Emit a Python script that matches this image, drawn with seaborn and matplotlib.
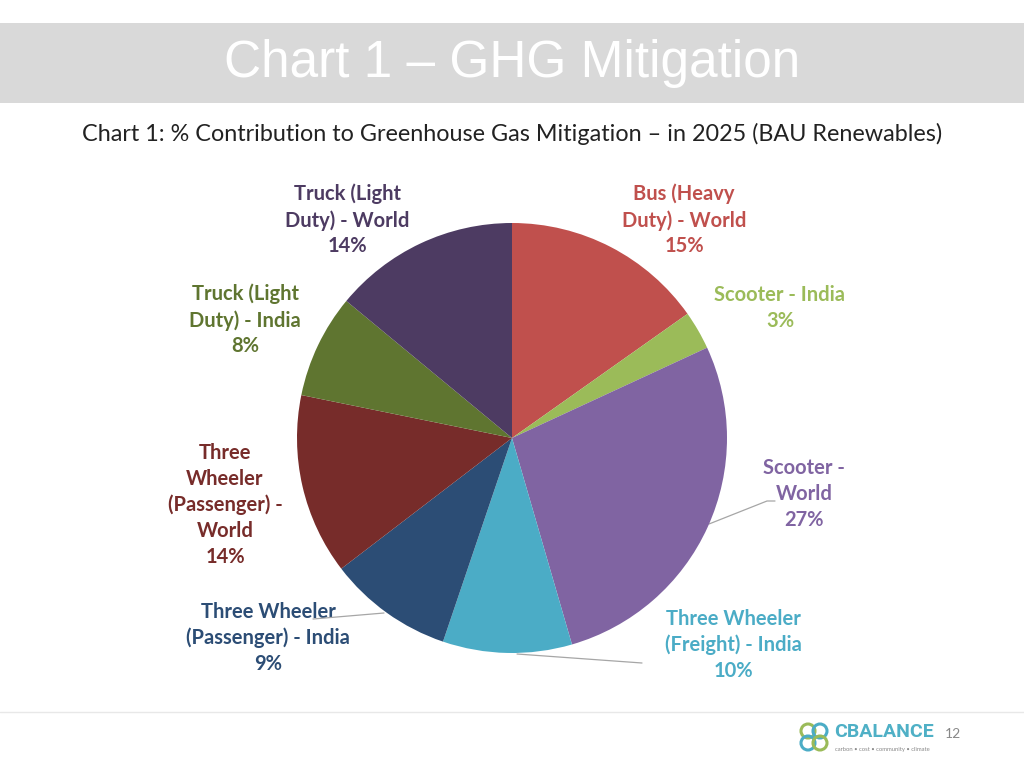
import matplotlib
matplotlib.use("Agg")
import matplotlib.pyplot as plt
import seaborn as sns
from matplotlib.patches import Rectangle, Circle

# data (clockwise from 12 o'clock)
categories = [
    "Bus (Heavy\nDuty) - World",
    "Scooter - India",
    "Scooter -\nWorld",
    "Three Wheeler\n(Freight) - India",
    "Three Wheeler\n(Passenger) - India",
    "Three\nWheeler\n(Passenger) -\nWorld",
    "Truck (Light\nDuty) - India",
    "Truck (Light\nDuty) - World",
]
shares = [15.2, 2.9, 27.4, 9.7, 9.4, 13.6, 7.8, 14.0]
slice_colors = ["#C0504D", "#9BBB59", "#8064A2", "#4BACC6",
                "#2C4D75", "#772C2A", "#5F7530", "#4D3B62"]

title = "Chart 1 \u2013 GHG Mitigation"
subtitle = "Chart 1: % Contribution to Greenhouse Gas Mitigation \u2013 in 2025 (BAU Renewables)"

sns.set_theme(style="white")
plt.rcParams["font.family"] = ["Lato", "DejaVu Sans"]

W, H = 1024, 768
fig = plt.figure(figsize=(W / 100, H / 100), dpi=100)
fig.patch.set_facecolor("white")

# overlay in pixel coordinates for slide furniture
ov = fig.add_axes([0, 0, 1, 1])
ov.set_xlim(0, W)
ov.set_ylim(H, 0)
ov.axis("off")

ov.add_patch(Rectangle((0, 23), W, 80, color="#D9D9D9", lw=0))
ov.text(512, 64, title, color="white", fontsize=37, ha="center", va="center",
        family=["Liberation Sans Narrow", "Liberation Sans", "DejaVu Sans"])
ov.text(512, 134, subtitle, color="#222222", fontsize=16.8, ha="center", va="center")
ov.plot([0, W], [712, 712], color="#E8E8E8", lw=1)

# pie: center (512, 438), radius 215 px
cx, cy, r = 512, 438, 215
ax = fig.add_axes([(cx - r) / W, (H - cy - r) / H, 2 * r / W, 2 * r / H])
ax.pie(shares, colors=slice_colors, startangle=90, counterclock=False,
       wedgeprops=dict(linewidth=0))
ax.set_xlim(-1, 1)
ax.set_ylim(-1, 1)
ax.set_aspect("auto")
ax.axis("off")

# label anchor positions (pixels)
label_pos = [(684, 220), (780, 308), (804, 494), (733, 645),
             (268, 638), (225, 505), (245, 320), (347, 220)]
for name, val, col, (lx, ly) in zip(categories, shares, slice_colors, label_pos):
    ov.text(lx, ly, f"{name}\n{round(val)}%", color=col, fontsize=14.5,
            fontweight="bold", ha="center", va="center", linespacing=1.35,
            zorder=5)

# leader lines
for pts in [[(709, 524), (767, 501), (775, 501)],
            [(517, 654), (642, 663)],
            [(384, 613), (313, 619)]]:
    xs, ys = zip(*pts)
    ov.plot(xs, ys, color="#A6A6A6", lw=0.9, zorder=6)

# logo
for (dx, dy), c in zip([(-6, -6), (6, -6), (-6, 6), (6, 6)],
                       ["#9BBB59", "#4BACC6", "#4BACC6", "#9BBB59"]):
    ov.add_patch(Circle((814 + dx, 737 + dy), 7, fill=False, ec=c, lw=2.2))
ov.text(834, 732, "CBALANCE", color="#4FB0C6", fontsize=14, fontweight="bold",
        ha="left", va="center", family=["Roboto", "DejaVu Sans"])
ov.text(835, 750, "carbon \u2022 cost \u2022 community \u2022 climate", color="#888888",
        fontsize=4.2, ha="left", va="center")
ov.text(953, 734, "12", color="#888888", fontsize=10, ha="center", va="center")

fig.savefig("out.png", dpi=100)
